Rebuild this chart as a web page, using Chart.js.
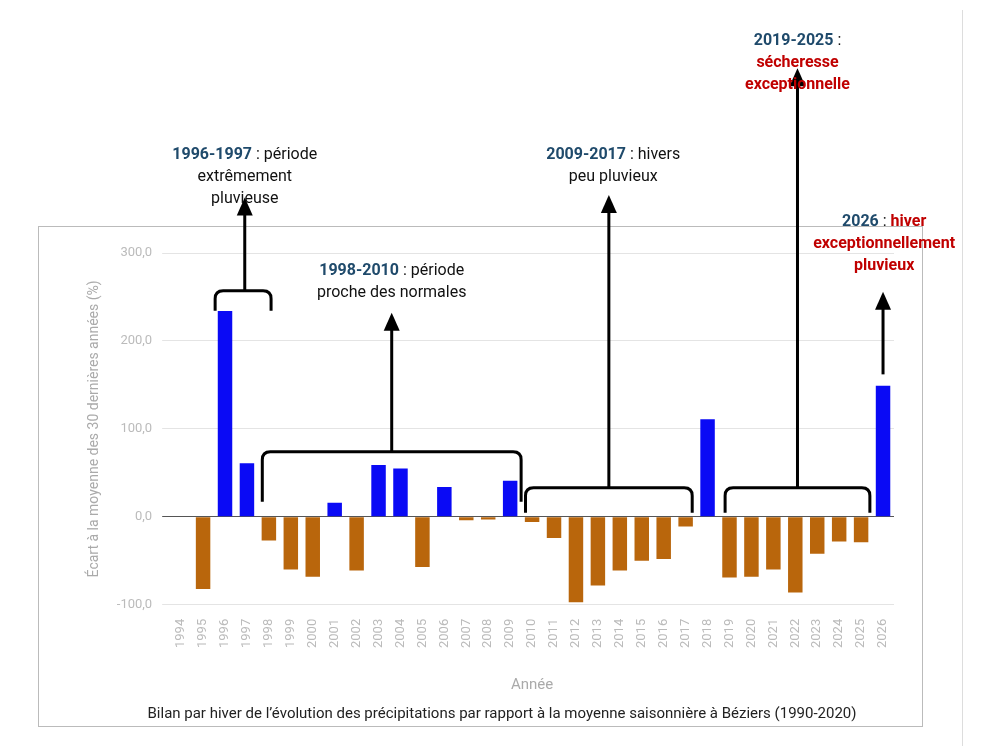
<!DOCTYPE html>
<html><head><meta charset="utf-8">
<script src="https://cdn.jsdelivr.net/npm/chart.js@4"></script>
<style>body{margin:0;background:#fff}#wrap{position:relative;width:1001px;height:746px}</style>
</head><body>
<div id="wrap"><canvas id="c" width="1001" height="746"></canvas></div>
<script>
const years = ['1994','1995','1996','1997','1998','1999','2000','2001','2002','2003','2004','2005','2006','2007','2008','2009','2010','2011','2012','2013','2014','2015','2016','2017','2018','2019','2020','2021','2022','2023','2024','2025','2026'];
const ecart = [0,-82,234,61,-27,-60,-68,16,-61,59,55,-57,34,-4,-3,41,-6,-24,-97,-78,-61,-50,-48,-11,111,-69,-68,-60,-86,-42,-28,-29,149];
const yTicks = [-100,0,100,200,300];

const BLUE = '#0a0af5', ORANGE = '#b9660c', NAVY = '#1f4a6b', RED = '#c00000';

// annotation groups: bracket [x0,x1] in category index, y in data value
const brackets = [
  {x0:1.55, x1:4.1, y:257, drop:20, arrowX:2.9, arrowTop:363},
  {x0:3.7, x1:15.5, y:74, drop:50, arrowX:9.6, arrowTop:232},
  {x0:15.7, x1:23.3, y:33, drop:25, arrowX:19.5, arrowTop:366},
  {x0:24.8, x1:31.4, y:33, drop:25, arrowX:28.1, arrowTop:510},
  {x0:null, arrowX:32, arrowFrom:162, arrowTop:256}
];
const notes = [
  {x:2.9, y:412, lines:[[['1996-1997',NAVY,true],[' : période','#111',false]],[['extrêmement','#111',false]],[['pluvieuse','#111',false]]]},
  {x:9.6, y:279, lines:[[['1998-2010',NAVY,true],[' : période','#111',false]],[['proche des normales','#111',false]]]},
  {x:19.7, y:412, lines:[[['2009-2017',NAVY,true],[' : hivers','#111',false]],[['peu pluvieux','#111',false]]]},
  {x:28.1, y:541, lines:[[['2019-2025',NAVY,true],[' :','#111',false]],[['sécheresse',RED,true]],[['exceptionnelle',RED,true]]]},
  {x:32.05, y:335, lines:[[['2026',NAVY,true],[' : ','#111',false],['hiver',RED,true]],[['exceptionnellement',RED,true]],[['pluvieux',RED,true]]]}
];

const deco = {
  id:'deco',
  beforeDraw(chart){
    const c = chart.ctx;
    c.save(); c.strokeStyle='#bbb'; c.lineWidth=1;
    c.strokeRect(38.5,226.5,884,500);
    c.strokeStyle='#ddd'; c.beginPath(); c.moveTo(962.5,10); c.lineTo(962.5,746); c.stroke();
    c.restore();
  },
  afterDraw(chart){
    const c = chart.ctx, xs = chart.scales.x, ys = chart.scales.y;
    c.save();
    c.strokeStyle='#000'; c.fillStyle='#000'; c.lineWidth=3;
    const arrow = (x, yFrom, yTo) => {
      c.beginPath(); c.moveTo(x,yFrom); c.lineTo(x,yTo+12); c.stroke();
      c.beginPath(); c.moveTo(x,yTo); c.lineTo(x-8,yTo+18); c.lineTo(x+8,yTo+18); c.closePath(); c.fill();
    };
    brackets.forEach(b => {
      const ax = xs.getPixelForValue(b.arrowX);
      if (b.x0 !== null) {
        const x0 = xs.getPixelForValue(b.x0), x1 = xs.getPixelForValue(b.x1), y = ys.getPixelForValue(b.y), r = 8;
        c.beginPath();
        c.moveTo(x0, y + b.drop); c.lineTo(x0, y + r); c.quadraticCurveTo(x0, y, x0 + r, y);
        c.lineTo(x1 - r, y); c.quadraticCurveTo(x1, y, x1, y + r); c.lineTo(x1, y + b.drop);
        c.stroke();
        arrow(ax, y, ys.getPixelForValue(b.arrowTop));
      } else {
        arrow(ax, ys.getPixelForValue(b.arrowFrom), ys.getPixelForValue(b.arrowTop));
      }
    });
    c.textBaseline='middle';
    notes.forEach(n => {
      const cx = xs.getPixelForValue(n.x);
      let y = ys.getPixelForValue(n.y);
      n.lines.forEach(line => {
        const fontOf = s => (s[2] ? 'bold ' : '') + '16px Roboto, sans-serif';
        let w = 0;
        line.forEach(s => { c.font = fontOf(s); w += c.measureText(s[0]).width; });
        let x = cx - w/2;
        line.forEach(s => { c.font = fontOf(s); c.fillStyle = s[1]; c.textAlign='left'; c.fillText(s[0], x, y); x += c.measureText(s[0]).width; });
        y += 22;
      });
    });
    c.font='15px Roboto, sans-serif'; c.fillStyle='#222'; c.textAlign='center';
    c.fillText('Bilan par hiver de l\u2019évolution des précipitations par rapport à la moyenne saisonnière à Béziers (1990-2020)', 502, 714);
    c.restore();
  }
};

new Chart(document.getElementById('c'), {
  type:'bar',
  data:{labels:years, datasets:[{data:ecart, backgroundColor:ecart.map(v => v >= 0 ? BLUE : ORANGE), barPercentage:0.66, categoryPercentage:1}]},
  options:{
    responsive:false, animation:false,
    layout:{padding:{top:253, left:82, right:107, bottom:52}},
    plugins:{legend:{display:false}, tooltip:{enabled:false}},
    scales:{
      x:{grid:{display:false}, border:{display:false},
         ticks:{color:'#bbb', font:{family:'Roboto', size:13}, padding:6, maxRotation:90, minRotation:90, autoSkip:false},
         title:{display:true, text:'Année', color:'#aaa', font:{family:'Roboto', size:15}, padding:{top:22, bottom:0}}},
      y:{min:-100, max:300, afterBuildTicks: a => { a.ticks = yTicks.map(v => ({value:v})); },
         grid:{color: ctx => ctx.tick && ctx.tick.value === 0 ? '#555' : '#e4e4e4'}, border:{display:false},
         ticks:{color:'#bbb', font:{family:'Roboto', size:13}, padding:10,
                callback: v => v.toFixed(1).replace('.', ',')},
         title:{display:true, text:'Écart à la moyenne des 30 dernières années (%)', color:'#aaa', font:{family:'Roboto', size:14}}}
    }
  },
  plugins:[deco]
});
</script>
</body></html>
